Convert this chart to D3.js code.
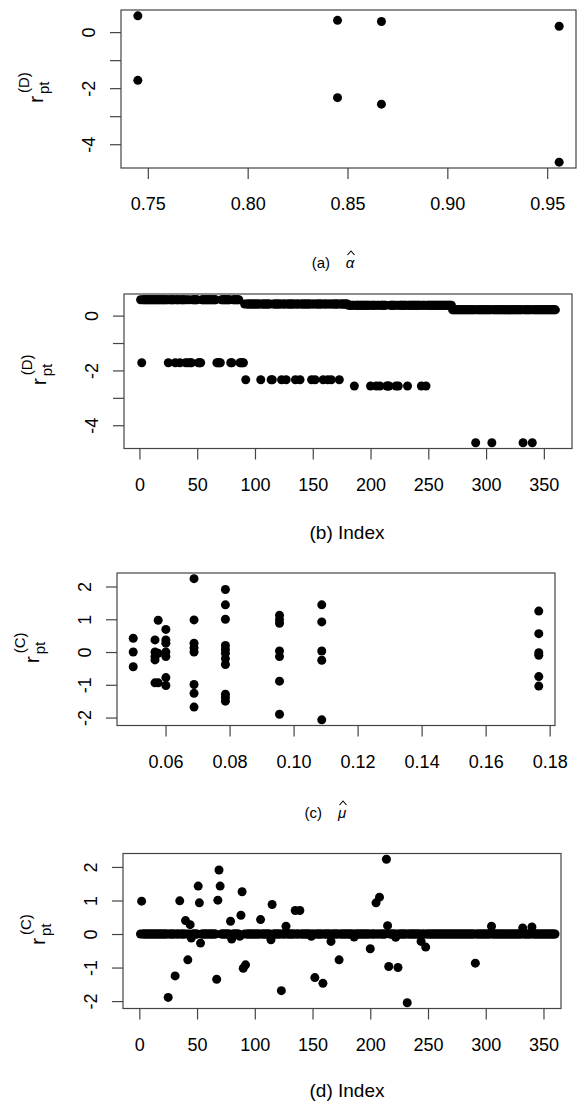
<!DOCTYPE html>
<html>
<head>
<meta charset="utf-8">
<script src="https://cdn.jsdelivr.net/npm/d3@7"></script>
<style>
body { margin: 0; background: #fff; }
svg { display: block; }
text { font-family: "Liberation Sans", Arial, sans-serif; fill: #000; }
</style>
</head>
<body>
<svg width="580" height="1102"></svg>
<script>
const svg = d3.select('svg');

// (a) residuals r_pt^(D) against alpha-hat
const alphaHat = [0.745, 0.745, 0.845, 0.845, 0.867, 0.867, 0.956, 0.956];
const rDalpha  = [0.58, -1.72, 0.42, -2.34, 0.38, -2.57, 0.21, -4.64];

// (b) r_pt^(D) by index (360 obs)
const rD = [
  .58,-1.72,.58,.58,.58,.58,.58,.58,.58,.58,
  .58,.58,.58,.58,.58,.58,.58,.58,.58,.58,
  .58,.58,.58,.58,-1.72,.58,.58,.58,.58,.58,
  -1.72,.58,.58,.58,-1.72,.58,.58,.58,.58,-1.72,
  .58,-1.72,.58,-1.72,-1.72,.58,.58,.58,.58,.58,
  -1.72,-1.72,-1.72,.58,.58,.58,.58,.58,.58,.58,
  .58,.58,.58,.58,.58,.58,-1.72,-1.72,-1.72,-1.72,
  .58,.58,.58,.58,.58,.58,.58,.58,-1.72,-1.72,
  .58,.58,.58,.58,.58,.58,-1.72,-1.72,-1.72,-1.72,
  .42,-2.34,.42,.42,.42,.42,.42,.42,.42,.42,
  .42,.42,.42,.42,-2.34,.42,.42,.42,.42,.42,
  .42,.42,.42,-2.34,-2.34,.42,.42,.42,.42,.42,
  .42,.42,-2.34,.42,.42,.42,-2.34,.42,.42,.42,
  .42,.42,.42,.42,-2.34,.42,.42,.42,-2.34,.42,
  .42,.42,.42,.42,.42,.42,.42,.42,-2.34,.42,
  .42,-2.34,.42,.42,.42,.42,.42,.42,-2.34,.42,
  .42,.42,-2.34,.42,.42,-2.34,.42,.42,.42,.42,
  .42,.42,-2.34,.42,.42,.42,.42,.42,.42,.42,
  .38,.38,.38,.38,.38,-2.57,.38,.38,.38,.38,
  .38,.38,.38,.38,.38,.38,.38,.38,.38,-2.57,
  .38,.38,.38,.38,-2.57,.38,.38,-2.57,.38,.38,
  .38,.38,.38,-2.57,-2.57,-2.57,.38,.38,.38,.38,
  .38,-2.57,.38,-2.57,.38,.38,.38,.38,.38,.38,
  .38,-2.57,.38,.38,.38,.38,.38,.38,.38,.38,
  .38,.38,.38,-2.57,.38,.38,.38,-2.57,.38,.38,
  .38,.38,.38,.38,.38,.38,.38,.38,.38,.38,
  .38,.38,.38,.38,.38,.38,.38,.38,.38,.38,
  .21,.21,.21,.21,.21,.21,.21,.21,.21,.21,
  .21,.21,.21,.21,.21,.21,.21,.21,.21,.21,
  -4.64,.21,.21,.21,.21,.21,.21,.21,.21,.21,
  .21,.21,.21,.21,-4.64,.21,.21,.21,.21,.21,
  .21,.21,.21,.21,.21,.21,.21,.21,.21,.21,
  .21,.21,.21,.21,.21,.21,.21,.21,.21,.21,
  .21,-4.64,.21,.21,.21,.21,.21,.21,.21,-4.64,
  .21,.21,.21,.21,.21,.21,.21,.21,.21,.21,
  .21,.21,.21,.21,.21,.21,.21,.21,.21,.21
];

// (c) r_pt^(C) against mu-hat
const muHat = [
  .0499,.0499,.0499,
  .0567,.0567,.0567,.0567,.0567,
  .0577,.0577,.0577,
  .0601,.0601,.0601,.0601,.0601,.0601,.0601,
  .0689,.0689,.0689,.0689,.0689,.0689,.0689,.0689,
  .0787,.0787,.0787,.0787,.0787,.0787,.0787,.0787,.0787,.0787,.0787,
  .0956,.0956,.0956,.0956,.0956,.0956,.0956,
  .1088,.1088,.1088,.1088,.1088,
  .1766,.1766,.1766,.1766,.1766,.1766
];
const rCmu = [
  .42,0,-.45,
  .37,0,-.14,-.24,-.94,
  .97,-.04,-.94,
  .69,.37,.27,0,-.14,-.78,-1.02,
  2.24,.98,.27,.13,0,-.99,-1.26,-1.68,
  1.91,1.44,1.00,.20,.08,-.04,-.20,-.38,-1.29,-1.39,-1.50,
  1.12,.99,.88,.03,-.14,-.89,-1.90,
  1.44,.92,.03,-.25,-2.07,
  1.25,.56,-.02,-.10,-.75,-1.04
];

// (d) r_pt^(C) by index (360 obs)
const rC = [
  0,.98,0,0,0,0,0,0,0,0,
  0,0,0,0,0,0,0,0,0,0,
  0,0,0,0,-1.89,0,0,0,0,0,
  -1.25,0,0,0,.99,0,0,0,0,.40,
  0,-.77,0,.28,-.12,0,0,0,0,0,
  1.43,.93,-.27,0,0,0,0,0,0,0,
  0,0,0,0,0,0,-1.35,1.01,1.91,1.43,
  0,0,0,0,0,0,0,0,.38,-.15,
  0,0,0,0,0,0,-.07,.56,1.26,-1.02,
  0,-.92,0,0,0,0,0,0,0,0,
  0,0,0,0,.43,0,0,0,0,0,
  0,0,0,-.17,.88,0,0,0,0,0,
  0,0,-1.69,0,0,0,.23,0,0,0,
  0,0,0,0,.70,0,0,0,.70,0,
  0,0,0,0,0,0,0,0,-.07,0,
  0,-1.30,0,0,0,0,0,0,-1.47,0,
  0,0,0,0,0,-.22,0,0,0,0,
  0,0,-.77,0,0,0,0,0,0,0,
  0,0,0,0,0,-.09,0,0,0,0,
  0,0,0,0,0,0,0,0,0,-.44,
  0,0,0,0,.93,0,0,1.10,0,0,
  0,0,0,2.23,.25,-.97,0,0,0,0,
  0,-.10,0,-1.00,0,0,0,0,0,0,
  0,-2.05,0,0,0,0,0,0,0,0,
  0,0,0,-.22,0,0,0,-.39,0,0,
  0,0,0,0,0,0,0,0,0,0,
  0,0,0,0,0,0,0,0,0,0,
  0,0,0,0,0,0,0,0,0,0,
  0,0,0,0,0,0,0,0,0,0,
  -.87,0,0,0,0,0,0,0,0,0,
  0,0,0,0,.23,0,0,0,0,0,
  0,0,0,0,0,0,0,0,0,0,
  0,0,0,0,0,0,0,0,0,0,
  0,.18,0,0,0,0,0,0,0,.21,
  0,0,0,0,0,0,0,0,0,0,
  0,0,0,0,0,0,0,0,0,0
];
const obsIndex = rD.map((d, i) => i + 1);

const ticksAlpha = [0.75, 0.80, 0.85, 0.90, 0.95];
const ticksIndex = [0, 50, 100, 150, 200, 250, 300, 350];
const ticksMu = [0.06, 0.08, 0.10, 0.12, 0.14, 0.16, 0.18];
const ticksD = [-4, -3, -2, -1, 0];
const ticksC = [-2, -1, 0, 1, 2];

// R style axis limits: data range padded by 4%
function rExtent(v) {
  const [lo, hi] = d3.extent(v);
  const pad = (hi - lo) * 0.04;
  return [lo - pad, hi + pad];
}
const minus = s => s.replace('\u2212', '-');

function panel(p) {
  const x = d3.scaleLinear().domain(rExtent(p.xs)).range(p.xr || [p.box.l, p.box.r]);
  const y = d3.scaleLinear().domain(rExtent(p.ys)).range([p.box.b, p.box.t]);
  const g = svg.append('g');

  g.selectAll('circle')
    .data(p.xs.map((d, i) => [d, p.ys[i]]))
    .enter().append('circle')
      .attr('cx', d => x(d[0]))
      .attr('cy', d => y(d[1]))
      .attr('r', 4.5)
      .attr('fill', '#000');

  g.append('rect')
    .attr('x', p.box.l).attr('y', p.box.t)
    .attr('width', p.box.r - p.box.l).attr('height', p.box.b - p.box.t)
    .attr('fill', 'none').attr('stroke', '#444').attr('stroke-width', 1.2);

  const xa = g.append('g')
    .attr('transform', `translate(0,${p.box.b})`)
    .call(d3.axisBottom(x).tickValues(p.xt).tickSize(11)
      .tickFormat(d => minus(d3.format(p.xf)(d))));
  xa.select('.domain').remove();
  xa.selectAll('.tick line').attr('stroke', '#444').attr('stroke-width', 1.2);
  xa.selectAll('text')
    .attr('y', 36).attr('dy', '0.35em')
    .attr('font-size', 18).attr('font-family', '"Liberation Sans", Arial, sans-serif');

  const ya = g.append('g')
    .attr('transform', `translate(${p.box.l},0)`)
    .call(d3.axisLeft(y).tickValues(p.yt).tickSize(11)
      .tickFormat(d => (p.ylab.includes(d) ? minus(String(d)) : '')));
  ya.select('.domain').remove();
  ya.selectAll('.tick line').attr('stroke', '#444').attr('stroke-width', 1.2);
  ya.selectAll('text')
    .attr('transform', 'rotate(-90)')
    .attr('x', 0).attr('y', -32).attr('dy', '0.35em')
    .attr('text-anchor', 'middle')
    .attr('font-size', 18).attr('font-family', '"Liberation Sans", Arial, sans-serif');

  // y title: r with subscript pt and superscript (C)/(D)
  const cy = (p.box.t + p.box.b) / 2;
  const t = g.append('g').attr('transform', `translate(${p.box.l - 78},${cy}) rotate(-90)`);
  t.append('text').attr('x', -14).attr('y', 0).attr('font-size', 21).text('r');
  t.append('text').attr('x', -5).attr('y', 6).attr('font-size', 15).text('pt');
  t.append('text').attr('x', -4).attr('y', -14).attr('font-size', 15).text(p.sup);

  // caption under the panel
  const cap = g.append('g').attr('transform', `translate(${p.cap.x},${p.cap.y})`);
  if (p.hat) {
    cap.append('text').attr('x', 0).attr('y', 0).attr('dy', '0.35em')
      .attr('font-family', '"Open Sans", "Noto Sans", sans-serif')
      .attr('font-size', 15).attr('text-anchor', 'end').text(p.cap.label);
    cap.append('text').attr('x', 20).attr('y', 0).attr('dy', '0.35em')
      .attr('font-family', '"DejaVu Serif", serif').attr('font-style', 'italic')
      .attr('font-size', 15).attr('text-anchor', 'middle').text(p.hat);
    // circumflex accent drawn as a small chevron
    cap.append('path')
      .attr('d', 'M17.5,-8 L21,-12 L24.5,-8')
      .attr('fill', 'none').attr('stroke', '#000').attr('stroke-width', 1.1);
  } else {
    cap.append('text').attr('x', 0).attr('y', 0).attr('dy', '0.35em')
      .attr('font-size', 19).attr('text-anchor', 'middle').text(p.cap.label);
  }
}

panel({
  xs: alphaHat, ys: rDalpha, xt: ticksAlpha, xf: '.2f', yt: ticksD, ylab: [-4, -2, 0],
  box: {l: 121, r: 576, t: 10, b: 168}, sup: '(D)',
  cap: {x: 330, y: 263, label: '(a)'}, hat: '\u03b1'
});
panel({
  xs: obsIndex, ys: rD, xt: ticksIndex, xf: 'd', yt: ticksD, ylab: [-4, -2, 0],
  box: {l: 124, r: 572, t: 294, b: 448.5}, sup: '(D)',
  cap: {x: 347, y: 532, label: '(b) Index'}
});
panel({
  xs: muHat, ys: rCmu, xt: ticksMu, xf: '.2f', yt: ticksC, ylab: ticksC,
  box: {l: 117, r: 555, t: 573, b: 725.5}, sup: '(C)',
  cap: {x: 322, y: 813, label: '(c)'}, hat: '\u03bc'
});
panel({
  xs: obsIndex, ys: rC, xt: ticksIndex, xf: 'd', yt: ticksC, ylab: ticksC,
  xr: [123.9, 571.6],
  box: {l: 123, r: 561, t: 853.5, b: 1008.5}, sup: '(C)',
  cap: {x: 347, y: 1090, label: '(d) Index'}
});
</script>
</body>
</html>
